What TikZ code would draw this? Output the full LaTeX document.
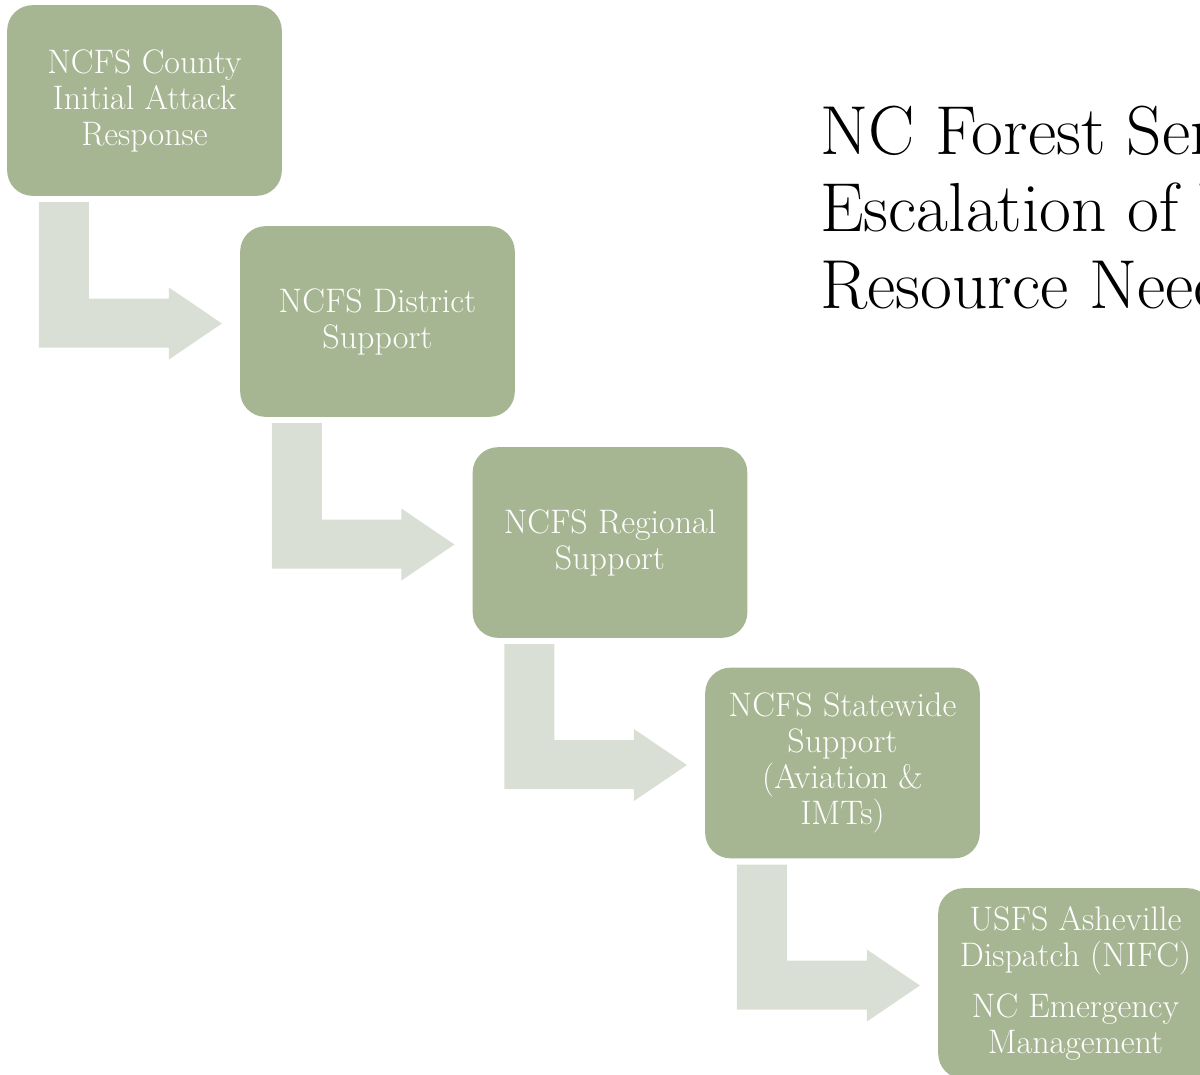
\documentclass[tikz,border=0pt]{standalone}
\usepackage{tikz}
\usetikzlibrary{calc}

\definecolor{boxgreen}{HTML}{A6B592}
\definecolor{flowgray}{HTML}{D9DFD4}

\begin{document}
\begin{tikzpicture}[
  x=0.75pt,
  y=-0.75pt,
  stepbox/.style={
    rectangle,
    rounded corners=19pt,
    fill=boxgreen,
    draw=none,
    minimum width=206pt,
    minimum height=143pt,
    inner sep=0pt,
    align=center,
    text=white,
    font=\fontsize{25.5}{27}\selectfont
  },
  flow/.style={
    fill=flowgray,
    draw=none
  }
]
\path[use as bounding box, clip] (0,0) rectangle (1200,1075);

% escalation steps
\node[stepbox] (county) at (144.5,100.5) {NCFS County\\Initial Attack\\Response};
\node[stepbox] (district) at (377.5,321.5) {NCFS District\\Support};
\node[stepbox] (regional) at (610,542.5) {NCFS Regional\\Support};
\node[stepbox] (statewide) at (842.5,763) {NCFS Statewide\\Support\\(Aviation \&\\IMTs)};
\node[stepbox] (federal) at (1075.5,983.5) {USFS Asheville\\Dispatch (NIFC)\\[11pt]NC Emergency\\Management};

% bent arrows between steps
\fill[flow] ($(county.south west)+(32,6)$) coordinate (s1) -- ++(50,0) |- ($(district.west)+(-71,-23)$)
  -- ++(0,-11) -- ($(district.west)+(-18,2)$) -- ($(district.west)+(-71,38)$) -- ++(0,-12) -| (s1) -- cycle;
\fill[flow] ($(district.south west)+(32,6)$) coordinate (s2) -- ++(50,0) |- ($(regional.west)+(-71,-23)$)
  -- ++(0,-11) -- ($(regional.west)+(-18,2)$) -- ($(regional.west)+(-71,38)$) -- ++(0,-12) -| (s2) -- cycle;
\fill[flow] ($(regional.south west)+(32,6)$) coordinate (s3) -- ++(50,0) |- ($(statewide.west)+(-71,-23)$)
  -- ++(0,-11) -- ($(statewide.west)+(-18,2)$) -- ($(statewide.west)+(-71,38)$) -- ++(0,-12) -| (s3) -- cycle;
\fill[flow] ($(statewide.south west)+(32,6)$) coordinate (s4) -- ++(50,0) |- ($(federal.west)+(-71,-23)$)
  -- ++(0,-11) -- ($(federal.west)+(-18,2)$) -- ($(federal.west)+(-71,38)$) -- ++(0,-12) -| (s4) -- cycle;

% title
\node[anchor=base west, inner sep=0pt, align=left, font=\fontsize{52}{57.4}\selectfont] (title) at (820,308)
  {NC Forest Service\\Escalation of Wildfire\\Resource Needs};
\end{tikzpicture}
\end{document}
